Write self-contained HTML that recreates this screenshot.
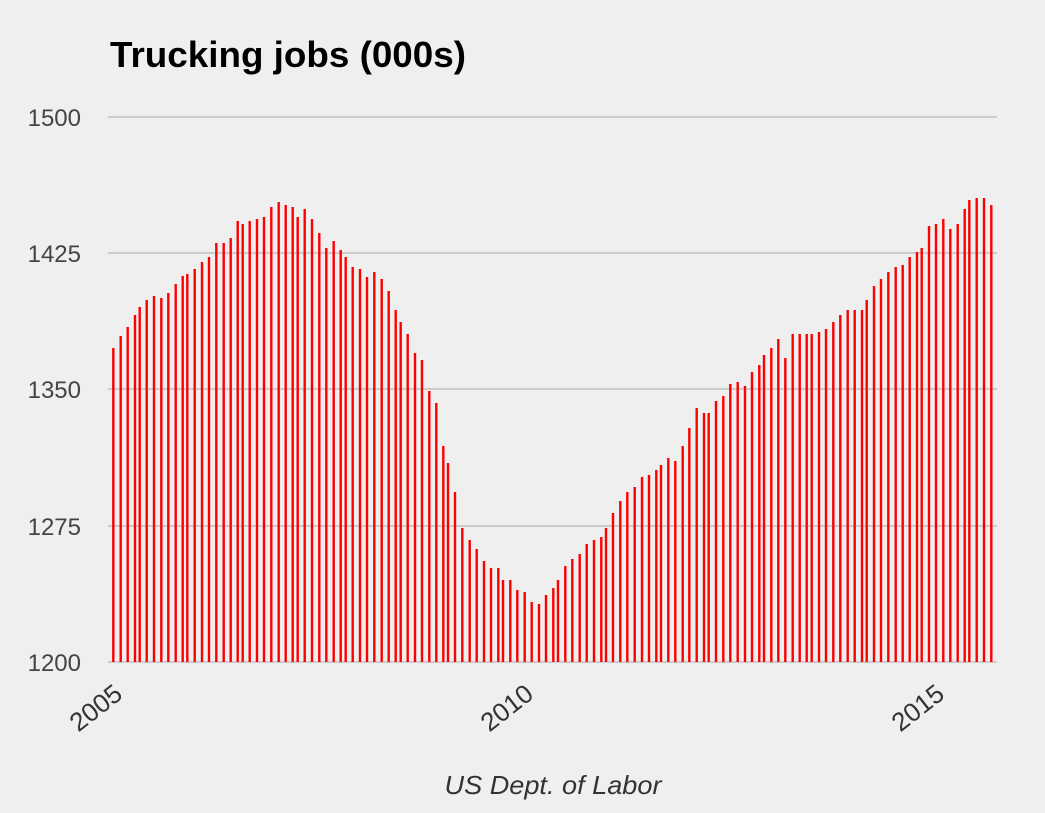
<!DOCTYPE html>
<html><head><meta charset="utf-8"><style>
html,body{margin:0;padding:0;background:#efefef;}
svg{display:block;font-family:"Liberation Sans",sans-serif;}
</style></head><body>
<svg width="1045" height="813" viewBox="0 0 1045 813">
<rect width="1045" height="813" fill="#efefef"/>
<text x="110" y="67" font-size="36" font-weight="bold" fill="#000" textLength="356" lengthAdjust="spacingAndGlyphs">Trucking jobs (000s)</text>
<g stroke="#cccccc" stroke-width="2">
<line x1="108" y1="117" x2="997" y2="117"/>
<line x1="108" y1="253" x2="997" y2="253"/>
<line x1="108" y1="389" x2="997" y2="389"/>
<line x1="108" y1="526" x2="997" y2="526"/>
<line x1="108" y1="662" x2="997" y2="662"/>
</g>
<g font-size="24" fill="#444" text-anchor="end">
<text x="81" y="126">1500</text>
<text x="81" y="262">1425</text>
<text x="81" y="398">1350</text>
<text x="81" y="535">1275</text>
<text x="81" y="671">1200</text>
</g>
<path stroke="#ff0000" stroke-width="2.4" fill="none" d="
M113.3 662V348 M120.7 662V336 M127.7 662V327 M135 662V315 M139.7 662V307 M146.7 662V300 M154 662V296 M161.3 662V298 M168.3 662V293 M175.7 662V284 M182.7 662V276 M187.3 662V274 M194.7 662V269 M202 662V262 M209 662V257 M216.3 662V243 M223.7 662V243 M230.7 662V238 M237.7 662V221 M242.7 662V224 M249.7 662V221 M257 662V219 M264 662V217 M271.3 662V207 M278.7 662V202 M285.7 662V205 M292.7 662V207 M297.7 662V217 M304.7 662V209 M312 662V219 M319.3 662V233 M326.3 662V248 M333.7 662V241 M340.7 662V250 M345.7 662V257 M352.7 662V267 M360 662V269 M367 662V277 M374.3 662V272 M381.7 662V279 M388.7 662V291 M395.7 662V310 M400.7 662V322 M407.7 662V334 M415 662V353 M422 662V360 M429.3 662V391 M436.3 662V403
M443.3 662V446 M448 662V463 M455 662V492 M462.3 662V528 M469.7 662V540 M476.7 662V549 M484 662V561 M491 662V568 M498.3 662V568 M503 662V580 M510.3 662V580 M517.3 662V590 M524.7 662V592 M531.7 662V602 M539 662V604 M546 662V595 M553.3 662V588 M558 662V580 M565.3 662V566 M572.3 662V559 M579.7 662V554 M586.7 662V544 M594 662V540 M601.3 662V537 M606 662V528 M613 662V513 M620.3 662V501 M627.3 662V492 M634.7 662V487 M642 662V477 M649 662V475 M656.3 662V470 M661 662V465 M668.3 662V458 M675.3 662V461 M682.7 662V446
M689.3 662V428 M696.7 662V408 M704 662V413 M708.7 662V413 M716 662V401 M723.3 662V396 M730.3 662V384 M737.7 662V382 M745 662V386 M752 662V372 M759.3 662V365 M764 662V355 M771.3 662V348 M778.3 662V339 M785.3 662V358 M792.7 662V334 M799.7 662V334 M806.7 662V334 M811.7 662V334 M819 662V332 M826 662V329 M833.3 662V322 M840.3 662V315 M847.7 662V310 M854.7 662V310 M862 662V310 M866.7 662V300 M874 662V286 M881 662V279 M888.3 662V272 M895.7 662V267 M902.7 662V265 M909.7 662V257 M917 662V252 M921.7 662V248 M929 662V226 M936 662V224 M943.3 662V219 M950.3 662V229 M957.7 662V224 M964.7 662V209 M969.3 662V200 M976.7 662V198 M984 662V198 M991.3 662V205"/>
<g font-size="26" fill="#333" text-anchor="end">
<text transform="translate(124,697) rotate(-38)">2005</text>
<text transform="translate(535,697) rotate(-38)">2010</text>
<text transform="translate(946,697) rotate(-38)">2015</text>
</g>
<text x="553" y="794" font-size="26" font-style="italic" fill="#333" text-anchor="middle" textLength="217" lengthAdjust="spacingAndGlyphs">US Dept. of Labor</text>
</svg>
</body></html>
